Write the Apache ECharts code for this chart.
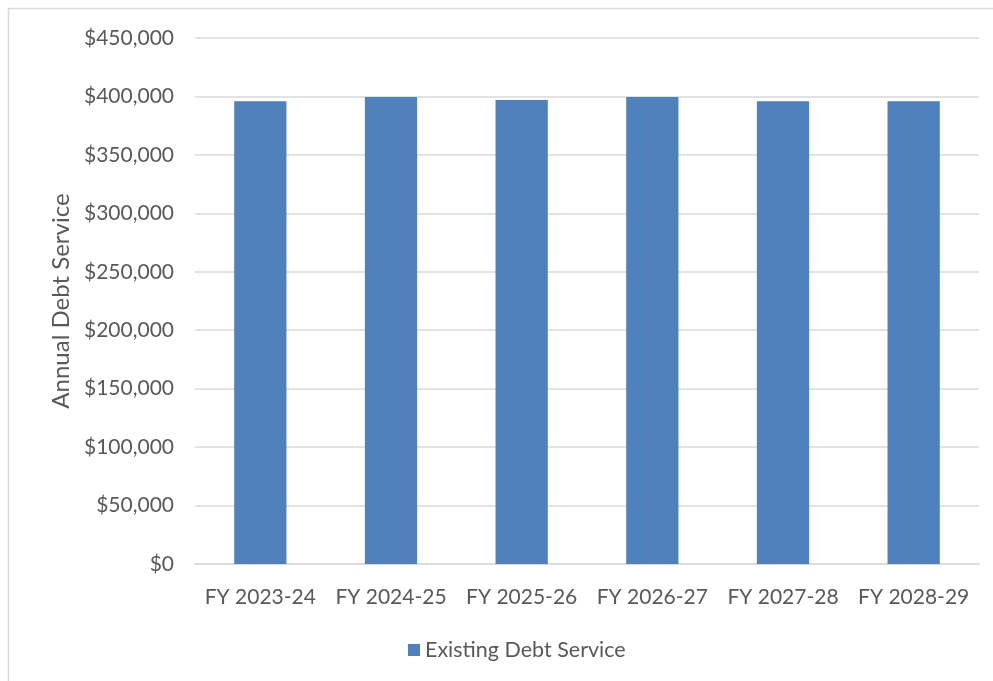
<!DOCTYPE html>
<html>
<head>
<meta charset="utf-8">
<script src="https://cdn.jsdelivr.net/npm/echarts@6/dist/echarts.min.js"></script>
<style>
  html, body { margin: 0; padding: 0; background: #ffffff; }
  #chart { width: 993px; height: 681px; }
</style>
</head>
<body>
<div id="chart"></div>
<script>
// Fiscal years shown on the category axis
const categories = ['FY 2023-24', 'FY 2024-25', 'FY 2025-26', 'FY 2026-27', 'FY 2027-28', 'FY 2028-29'];
// Existing debt service per year (USD)
const existingDebtService = [395900, 399600, 397000, 399600, 395900, 395900];
// Value axis range
const yMin = 0;
const yMax = 450000;
const yStep = 50000;

const font = 'Lato, "Open Sans", sans-serif';
const textGrey = '#595959';

const chart = echarts.init(document.getElementById('chart'));

chart.setOption({
  animation: false,
  backgroundColor: '#ffffff',
  graphic: [{
    type: 'rect',
    shape: { x: 8.5, y: 8.5, width: 1000, height: 700 },
    style: { fill: 'none', stroke: '#d9d9d9', lineWidth: 1.5 },
    silent: true
  }],
  grid: { left: 195, right: 14, top: 38, bottom: 117 },
  legend: {
    top: 634,
    left: 403,
    icon: 'rect',
    itemWidth: 12,
    itemHeight: 12,
    itemGap: 8,
    textStyle: { color: textGrey, fontFamily: font, fontSize: 21.5 },
    data: ['Existing Debt Service']
  },
  xAxis: {
    type: 'category',
    data: categories,
    axisLine: { lineStyle: { color: '#d9d9d9', width: 1.5 } },
    axisTick: { show: false },
    axisLabel: { color: textGrey, fontFamily: font, fontSize: 21, margin: 23, interval: 0 }
  },
  yAxis: {
    type: 'value',
    min: yMin,
    max: yMax,
    interval: yStep,
    name: 'Annual Debt Service',
    nameLocation: 'middle',
    nameGap: 121,
    nameTextStyle: { color: textGrey, fontFamily: font, fontSize: 24 },
    axisLine: { show: false },
    axisTick: { show: false },
    splitLine: { lineStyle: { color: '#d9d9d9', width: 1.5 } },
    axisLabel: {
      color: textGrey,
      fontFamily: font,
      fontSize: 21,
      margin: 21,
      formatter: v => '$' + v.toLocaleString('en-US')
    }
  },
  series: [{
    name: 'Existing Debt Service',
    type: 'bar',
    data: existingDebtService,
    barWidth: '40%',
    itemStyle: { color: '#4f81bd' }
  }]
});
</script>
</body>
</html>
